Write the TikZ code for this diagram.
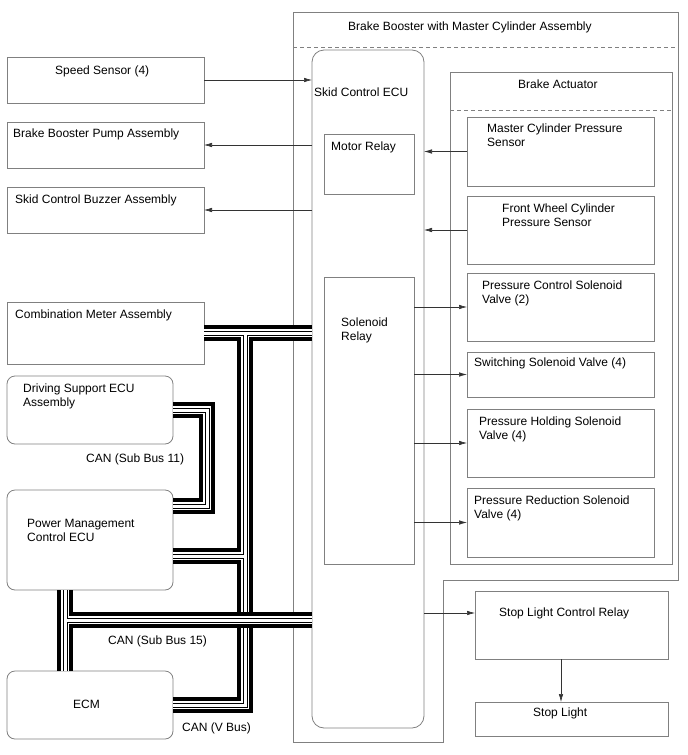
\documentclass[tikz,border=0pt]{standalone}
\usepackage{fontspec}
\setmainfont{Liberation Sans}
\usetikzlibrary{arrows.meta,positioning,calc}

% one CAN line: thick outer wires, thin inner pair
\newcommand{\canbus}[1]{%
  \draw[bus,line width=16pt] #1;
  \draw[bus,line width=8pt,white] #1;
  \draw[bus,line width=5pt] #1;
  \draw[bus,line width=3pt,white] #1;}

\begin{document}
\begin{tikzpicture}[x=1pt,y=-1pt,
  box/.style={draw=black!50,line width=0.8pt,inner sep=0pt,outer sep=0pt,anchor=north west},
  rbox/.style={box,rounded corners=8pt},
  lbl/.style={inner sep=0pt,anchor=base west,align=left,font=\fontsize{12}{14}\selectfont},
  arr/.style={-{Latex[length=8pt,width=4.5pt]},black!80,line width=0.6pt},
  frame/.style={draw=black!50,line width=0.8pt},
  bus/.style={black,line cap=butt,line join=miter}
]
\useasboundingbox (0,0) rectangle (688,755);

% brake booster assembly
\draw[frame] (293,12) -- (678,12) -- (678,580) -- (443,580) -- (443,742) -- (293,742) -- cycle;
\draw[frame,dash pattern=on 4pt off 3pt] (293,47) -- (678,47);
\node[lbl] (tbbm) at (348,30) {Brake Booster with Master Cylinder Assembly};

% left side
\node[box,minimum width=197pt,minimum height=46pt] (spd) at (7,57) {};
\node[box,minimum width=197pt,minimum height=46pt] (bbp) at (7,122) {};
\node[box,minimum width=197pt,minimum height=46pt] (buz) at (7,187) {};
\node[box,minimum width=197pt,minimum height=62pt] (cmb) at (7,302) {};
\node[rbox,minimum width=166pt,minimum height=68pt] (dsa) at (7,376) {};
\node[rbox,minimum width=166pt,minimum height=100pt] (pmc) at (7,490) {};
\node[rbox,minimum width=166pt,minimum height=68pt] (ecm) at (7,671) {};
\node[lbl] (tspd) at (55,74) {Speed Sensor (4)};
\node[lbl] (tbbp) at (13,137) {Brake Booster Pump Assembly};
\node[lbl] (tbuz) at (15,203) {Skid Control Buzzer Assembly};
\node[lbl] (tcmb) at (15,318) {Combination Meter Assembly};
\node[lbl] (tdsa) at (23,406) {Driving Support ECU\\Assembly};
\node[lbl] (tpmc) at (27,541) {Power Management\\Control ECU};
\node[lbl] (tecm) at (73,708) {ECM};
\node[lbl] (tb11) at (86,462) {CAN (Sub Bus 11)};
\node[lbl] (tb15) at (108,644) {CAN (Sub Bus 15)};
\node[lbl] (tbv) at (182,731) {CAN (V Bus)};

% skid control ECU
\node[box,rounded corners=12pt,minimum width=112pt,minimum height=678pt] (ecu) at (312,50) {};
\node[box,minimum width=90pt,minimum height=60pt] (mrl) at (324,134) {};
\node[box,minimum width=90pt,minimum height=287pt] (srl) at (324,277) {};
\node[lbl] (tecu) at (314,96) {Skid Control ECU};
\node[lbl] (tmrl) at (331,150) {Motor Relay};
\node[lbl] (tsrl) at (341,340) {Solenoid\\Relay};

% brake actuator
\node[box,minimum width=222pt,minimum height=492pt] (act) at (450,72) {};
\draw[frame,dash pattern=on 4pt off 3pt] (act.west |- 0,110) -- (act.east |- 0,110);
\node[lbl] (tact) at (518,88) {Brake Actuator};
\node[box,minimum width=187pt,minimum height=69pt] (mcs) at (467,117) {};
\node[box,minimum width=187pt,minimum height=68pt] (fws) at (467,196) {};
\node[box,minimum width=187pt,minimum height=68pt] (pcv) at (467,273) {};
\node[box,minimum width=187pt,minimum height=45pt] (ssv) at (467,352) {};
\node[box,minimum width=187pt,minimum height=68pt] (phv) at (467,409) {};
\node[box,minimum width=187pt,minimum height=69pt] (prv) at (467,488) {};
\node[lbl] (tmcs) at (487,146) {Master Cylinder Pressure\\Sensor};
\node[lbl] (tfws) at (502,226) {Front Wheel Cylinder\\Pressure Sensor};
\node[lbl] (tpcv) at (482,303) {Pressure Control Solenoid\\Valve (2)};
\node[lbl] (tssv) at (474,366) {Switching Solenoid Valve (4)};
\node[lbl] (tphv) at (479,439) {Pressure Holding Solenoid\\Valve (4)};
\node[lbl] (tprv) at (474,518) {Pressure Reduction Solenoid\\Valve (4)};

% stop light
\node[box,minimum width=193pt,minimum height=68pt] (slr) at (475,591) {};
\node[box,minimum width=193pt,minimum height=34pt] (stl) at (475,702) {};
\node[lbl] (tslr) at (499,616) {Stop Light Control Relay};
\node[lbl] (tstl) at (533,716) {Stop Light};

% CAN lines
\coordinate (vb) at (245,556);
\coordinate (pmcv) at ($(pmc.north east)+(0,66)$);
\coordinate (b11a) at (207,410);
\coordinate (b11b) at ($(pmc.north east)+(34,16)$);
\coordinate (b15) at (65,620);
\canbus{(cmb.east) -- (cmb.east -| ecu.west) (cmb.east -| vb) -- (ecm.east -| vb) -- (ecm.east) (pmcv) -- (vb)}
\canbus{(dsa.east) -- (b11a) -- (b11b) -- (b11b -| pmc.east)}
\canbus{(pmc.south -| b15) -- (ecm.north -| b15) (b15) -- (b15 -| ecu.west)}

% signal lines
\draw[arr] (spd) -- (spd -| ecu.west);
\draw[arr] (ecu.west |- bbp) -- (bbp);
\draw[arr] (ecu.west |- buz) -- (buz);
\draw[arr] (mcs) -- (mcs -| ecu.east);
\draw[arr] (fws) -- (fws -| ecu.east);
\draw[arr] (srl.east |- pcv) -- (pcv);
\draw[arr] (srl.east |- ssv) -- (ssv);
\draw[arr] (srl.east |- phv) -- (phv);
\draw[arr] (srl.east |- prv) -- (prv);
\coordinate (slin) at (475,613);
\draw[arr] (ecu.east |- slin) -- (slin);
\coordinate (slout) at (561,659);
\draw[arr] (slout) -- (slout |- stl.north);
\end{tikzpicture}
\end{document}
